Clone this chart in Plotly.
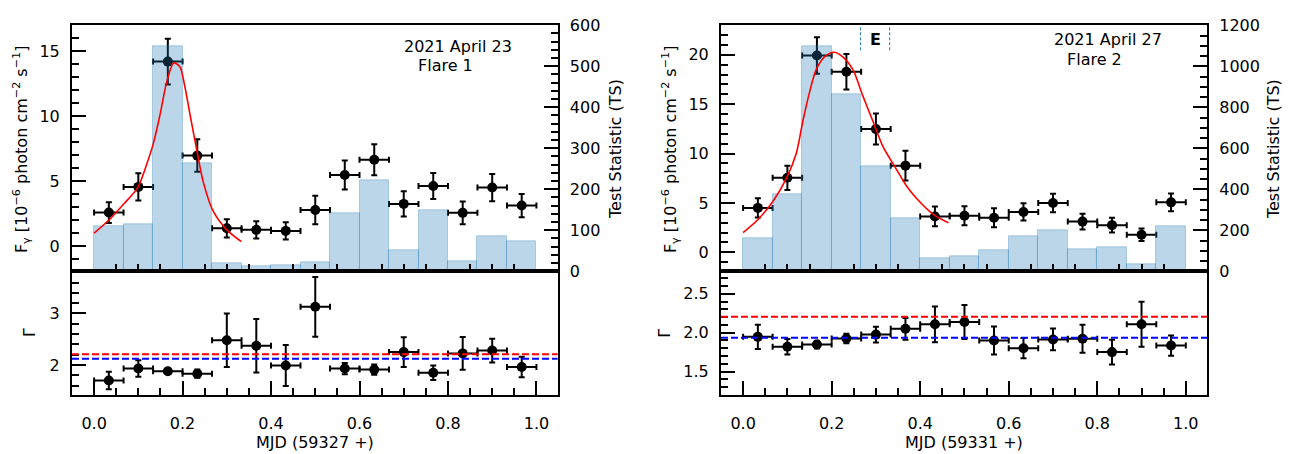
import plotly.graph_objects as go

# ---------------- data ----------------
# bin centres (MJD fraction) shared by both flares
t_mid = [0.0333, 0.1, 0.1667, 0.2333, 0.3, 0.3667, 0.4333, 0.5,
         0.5667, 0.6333, 0.7, 0.7667, 0.8333, 0.9, 0.9667]
t_halfwidth = [0.0333] * 15
bin_width = 1 / 15

# Flare 1 (MJD 59327)
flux1 = [2.57, 4.55, 14.2, 6.96, 1.36, 1.24, 1.16, 2.77,
         5.46, 6.64, 3.24, 4.62, 2.55, 4.5, 3.11]
flux1_err = [0.8, 1.05, 1.77, 1.25, 0.7, 0.67, 0.67, 1.1,
             1.12, 1.2, 0.97, 1.0, 0.87, 1.05, 0.9]
ts1 = [109, 114, 550, 264, 19, 13, 14, 22,
       142, 222, 50, 149, 24, 86, 72]
gamma1 = [1.70, 1.93, 1.88, 1.83, 2.48, 2.375, 1.99, 3.13,
          1.93, 1.91, 2.25, 1.85, 2.225, 2.28, 1.96]
gamma1_err = [0.17, 0.16, 0.05, 0.08, 0.52, 0.52, 0.40, 0.58,
              0.11, 0.10, 0.29, 0.14, 0.32, 0.23, 0.20]
fit1_t = [0.0, 0.033, 0.066, 0.098, 0.118, 0.134, 0.149, 0.164, 0.18,
          0.194, 0.205, 0.217, 0.232, 0.247, 0.269, 0.30, 0.333]
fit1_f = [0.99, 1.98, 3.2, 4.45, 6.2, 7.9, 10.1, 12.6, 14.1,
          13.8, 12.3, 10.1, 7.4, 4.9, 2.7, 1.24, 0.33]
gamma1_red = 2.21
gamma1_blue = 2.12

# Flare 2 (MJD 59331)
flux2 = [4.5, 7.55, 19.94, 18.3, 12.48, 8.78, 3.63, 3.7,
         3.5, 4.09, 4.99, 3.11, 2.75, 1.78, 5.06]
flux2_err = [0.97, 1.23, 1.85, 1.8, 1.57, 1.5, 1.0, 0.97,
             0.96, 0.88, 0.94, 0.8, 0.75, 0.64, 0.9]
ts2 = [162, 374, 1100, 863, 513, 260, 65, 75,
       101, 171, 200, 106, 115, 36, 218]
gamma2 = [1.946, 1.818, 1.847, 1.925, 1.975, 2.05, 2.108, 2.137,
          1.90, 1.80, 1.913, 1.922, 1.75, 2.108, 1.834]
gamma2_err = [0.155, 0.10, 0.05, 0.06, 0.10, 0.14, 0.23, 0.22,
              0.18, 0.13, 0.14, 0.18, 0.16, 0.29, 0.13]
fit2_t = [0.0, 0.033, 0.068, 0.1, 0.12, 0.135, 0.15, 0.165, 0.184, 0.205,
          0.225, 0.248, 0.27, 0.293, 0.316, 0.346, 0.368, 0.391, 0.428, 0.464]
fit2_f = [2.0, 3.3, 5.2, 7.7, 10.0, 13.3, 16.2, 18.5, 19.8, 20.26,
          19.8, 18.5, 15.9, 13.3, 10.7, 8.43, 6.8, 5.5, 3.9, 2.98]
gamma2_red = 2.204
gamma2_blue = 1.934
e_span = [0.265, 0.331]

# ---------------- styling ----------------
FONT = "DejaVu Sans"
FS = 16
BLACK = "black"
BAR_FILL = "rgba(31,119,180,0.3)"
BAR_EDGE = "rgba(31,119,180,0.3)"

XL = [0.0558, 0.4323]
XR = [0.5589, 0.9357]
Y_TOP = [0.3971, 0.9626]
Y_BOT = [0.113, 0.3971]
XRANGE = [-0.05, 1.048]
FLUX1_RANGE = [-1.95, 17.0]
FLUX2_RANGE = [-1.92, 23.0]

fig = go.Figure()


def points(x, y, yerr, xa, ya):
    return go.Scatter(
        x=x, y=y, xaxis=xa, yaxis=ya, mode="markers",
        marker=dict(color=BLACK, size=10),
        error_x=dict(type="data", array=t_halfwidth, color=BLACK, thickness=2, width=3),
        error_y=dict(type="data", array=yerr, color=BLACK, thickness=2, width=3),
        showlegend=False, hoverinfo="skip",
    )


def add_flare(xa_top, ya_flux, ya_ts, ya_fit, xa_bot, ya_gam,
              flux, ferr, ts, gam, gerr, ft, ff):
    # flux points sit beneath the translucent TS histogram; the fit curve is on top
    fig.add_trace(points(t_mid, flux, ferr, xa_top, ya_flux))
    fig.add_trace(go.Bar(x=t_mid, y=ts, width=bin_width, xaxis=xa_top, yaxis=ya_ts,
                         marker=dict(color=BAR_FILL, line=dict(color=BAR_EDGE, width=1)),
                         showlegend=False, hoverinfo="skip"))
    fig.add_trace(go.Scatter(x=ft, y=ff, xaxis=xa_top, yaxis=ya_fit, mode="lines",
                             line=dict(color="red", width=1.6, shape="spline", smoothing=0.8),
                             showlegend=False, hoverinfo="skip"))
    fig.add_trace(points(t_mid, gam, gerr, xa_bot, ya_gam))


add_flare("x", "y", "y2", "y7", "x2", "y3",
          flux1, flux1_err, ts1, gamma1, gamma1_err, fit1_t, fit1_f)
add_flare("x3", "y4", "y5", "y8", "x4", "y6",
          flux2, flux2_err, ts2, gamma2, gamma2_err, fit2_t, fit2_f)

# minor tick positions along the shared time axis of the upper panels
top_ticks = [round(0.05 * k, 2) for k in range(0, 21) if k % 4 != 0]

line_kw = dict(showline=True, linewidth=2, linecolor=BLACK, showgrid=False, zeroline=False,
               tickfont=dict(family=FONT, size=FS, color=BLACK), layer="above traces")


def major(standoff=7):
    return dict(ticks="inside", ticklen=14, tickwidth=2, tickcolor=BLACK,
                ticklabelstandoff=standoff)


def minor(dtick, tick0=0):
    return dict(ticks="inside", ticklen=7, tickwidth=1.5, tickcolor=BLACK, dtick=dtick, tick0=tick0)


def top_x(domain, anchor):
    return dict(domain=domain, anchor=anchor, range=XRANGE, mirror=True,
                tickvals=top_ticks, showticklabels=False,
                ticks="inside", ticklen=7, tickwidth=1.5, tickcolor=BLACK, **line_kw)


def bot_x(domain, anchor):
    return dict(domain=domain, anchor=anchor, range=XRANGE, mirror=True,
                dtick=0.2, tick0=0, tickformat=".1f", minor=minor(0.05),
                **major(standoff=13), **line_kw)


hidden = dict(visible=False, showgrid=False, zeroline=False)

layout_axes = dict(
    xaxis=top_x(XL, "y"),
    yaxis=dict(domain=Y_TOP, anchor="x", range=FLUX1_RANGE, side="left",
               dtick=5, tick0=0, minor=minor(1), **major(), **line_kw),
    yaxis2=dict(overlaying="y", anchor="x", side="right", range=[0, 600],
                dtick=100, tick0=0, minor=minor(20), **major(), **line_kw),
    yaxis7=dict(overlaying="y", anchor="x", range=FLUX1_RANGE, **hidden),
    xaxis2=bot_x(XL, "y3"),
    yaxis3=dict(domain=Y_BOT, anchor="x2", range=[1.42, 3.82], mirror=True,
                tickvals=[2, 3], minor=minor(0.2), **major(), **line_kw),
    xaxis3=top_x(XR, "y4"),
    yaxis4=dict(domain=Y_TOP, anchor="x3", range=FLUX2_RANGE, side="left",
                dtick=5, tick0=0, minor=minor(1), **major(), **line_kw),
    yaxis5=dict(overlaying="y4", anchor="x3", side="right", range=[0, 1200],
                dtick=200, tick0=0, minor=minor(50), **major(), **line_kw),
    yaxis8=dict(overlaying="y4", anchor="x3", range=FLUX2_RANGE, **hidden),
    xaxis4=bot_x(XR, "y6"),
    yaxis6=dict(domain=Y_BOT, anchor="x4", range=[1.2, 2.79], mirror=True,
                dtick=0.5, tick0=0, tickformat=".1f", minor=minor(0.1), **major(), **line_kw),
)

shapes = []
for xa, ya, red, blue in (("x2", "y3", gamma1_red, gamma1_blue),
                          ("x4", "y6", gamma2_red, gamma2_blue)):
    for val, col in ((blue, "blue"), (red, "red")):
        shapes.append(dict(type="line", xref=f"{xa} domain", yref=ya, x0=0, x1=1, y0=val, y1=val,
                           line=dict(color=col, width=2, dash="7px,3px")))
for xv in e_span:
    shapes.append(dict(type="line", xref="x3", yref="paper", x0=xv, x1=xv, y0=0.905, y1=0.9626,
                       line=dict(color="#1f77b4", width=1, dash="3px,2px")))

txt = dict(family=FONT, size=FS, color=BLACK)
flux_title = "F<sub>γ</sub> [10<sup>−6</sup> photon cm<sup>−2</sup> s<sup>−1</sup>]"
annotations = [
    dict(text=flux_title, x=0.0163, y=0.678, textangle=-90),
    dict(text=flux_title, x=0.5194, y=0.678, textangle=-90),
    dict(text="Test Statistic (TS)", x=0.4767, y=0.678, textangle=-90),
    dict(text="Test Statistic (TS)", x=0.9868, y=0.678, textangle=-90),
    dict(text="Γ", x=0.0233, y=0.2555, textangle=-90),
    dict(text="Γ", x=0.5155, y=0.2555, textangle=-90),
    dict(text="MJD (59327 +)", x=0.2442, y=0.004),
    dict(text="MJD (59331 +)", x=0.7473, y=0.004),
    dict(text="2021 April 23", x=0.355, y=0.914),
    dict(text="Flare 1", x=0.3455, y=0.870),
    dict(text="2021 April 27", x=0.8589, y=0.9295),
    dict(text="Flare 2", x=0.8488, y=0.8833),
]
for a in annotations:
    a.update(xref="paper", yref="paper", showarrow=False, xanchor="center", yanchor="middle",
             font=txt)
annotations.append(dict(text="<b>E</b>", xref="x3", yref="paper", x=sum(e_span) / 2, y=0.9295,
                        showarrow=False, xanchor="center", yanchor="middle", font=txt))

fig.update_layout(
    width=1290, height=454,
    margin=dict(l=0, r=0, t=0, b=0),
    paper_bgcolor="white", plot_bgcolor="white",
    barmode="overlay", bargap=0,
    font=dict(family=FONT, size=FS, color=BLACK),
    shapes=shapes, annotations=annotations,
    showlegend=False,
    **layout_axes,
)

fig.write_html("out.html")
